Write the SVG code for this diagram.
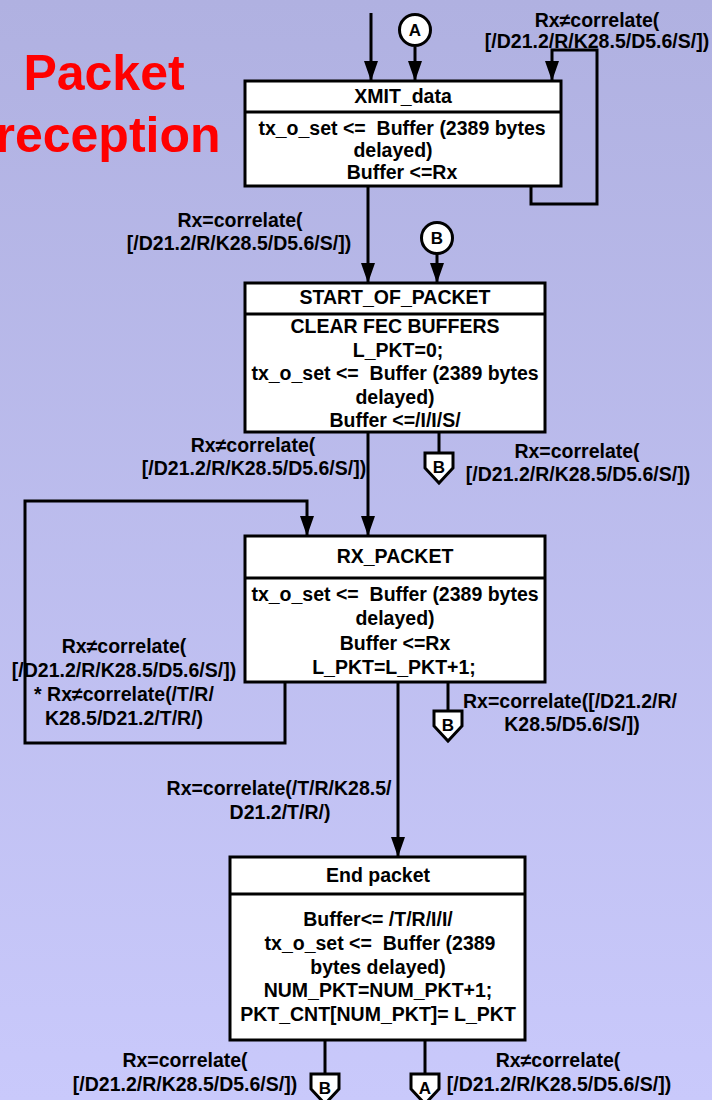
<svg xmlns="http://www.w3.org/2000/svg" width="712" height="1100" viewBox="0 0 712 1100">
<defs>
<linearGradient id="bg" x1="0" y1="0" x2="0" y2="1">
<stop offset="0" stop-color="#b0b1e1"/>
<stop offset="1" stop-color="#c9c9fb"/>
</linearGradient>
<marker id="arr" viewBox="0 -7 20 14" refX="20" refY="0" markerWidth="20" markerHeight="14" markerUnits="userSpaceOnUse" orient="auto">
<path d="M0,-7 L20,0 L0,7 Z" fill="#000"/>
</marker>
<path id="pent" d="M-14,0 H14 V15 L0,30 L-14,15 Z"/>
</defs>
<style>
text{font-family:"Liberation Sans",Arial,sans-serif;font-weight:bold;font-size:19.5px;fill:#000;text-anchor:middle;white-space:pre}
.title{font-size:50px;fill:#ff0000}
.box{fill:#fff;stroke:#000;stroke-width:3}
.div{stroke:#000;stroke-width:3}
.wire{fill:none;stroke:#000;stroke-width:3}
.conn{fill:#fff;stroke:#000;stroke-width:3}
.cl{font-size:17px}
</style>
<rect x="0" y="0" width="712" height="1100" fill="url(#bg)"/>

<g id="title">
<text class="title" x="104" y="90">Packet</text>
<text class="title" x="108" y="152">reception</text>
</g>

<g id="connectors">
<line class="wire" x1="371" y1="13" x2="371" y2="81" marker-end="url(#arr)"/>
<line class="wire" x1="415" y1="47" x2="415" y2="81" marker-end="url(#arr)"/>
<path class="wire" d="M531,186 V204 H597 V50 H552 V81" marker-end="url(#arr)"/>
<line class="wire" x1="368" y1="186" x2="368" y2="283" marker-end="url(#arr)"/>
<line class="wire" x1="437" y1="254" x2="437" y2="283" marker-end="url(#arr)"/>
<line class="wire" x1="368" y1="432" x2="368" y2="536" marker-end="url(#arr)"/>
<line class="wire" x1="439" y1="432" x2="439" y2="453"/>
<path class="wire" d="M285,682 V743 H25 V501 H307 V536" marker-end="url(#arr)"/>
<line class="wire" x1="398" y1="682" x2="398" y2="857" marker-end="url(#arr)"/>
<line class="wire" x1="448" y1="682" x2="448" y2="711"/>
<line class="wire" x1="325" y1="1040" x2="325" y2="1074"/>
<line class="wire" x1="425" y1="1040" x2="425" y2="1074"/>
<text x="597" y="27">Rx≠correlate(</text>
<text x="597" y="48">[/D21.2/R/K28.5/D5.6/S/])</text>
<text x="240" y="227">Rx=correlate(</text>
<text x="239" y="250">[/D21.2/R/K28.5/D5.6/S/])</text>
<text x="253" y="452">Rx≠correlate(</text>
<text x="254" y="475">[/D21.2/R/K28.5/D5.6/S/])</text>
<text x="577" y="458">Rx=correlate(</text>
<text x="578" y="481">[/D21.2/R/K28.5/D5.6/S/])</text>
<text x="124" y="653">Rx≠correlate(</text>
<text x="124" y="677">[/D21.2/R/K28.5/D5.6/S/])</text>
<text x="124" y="701">* Rx≠correlate(/T/R/</text>
<text x="124" y="725">K28.5/D21.2/T/R/)</text>
<text x="570" y="708">Rx=correlate([/D21.2/R/</text>
<text x="572" y="731">K28.5/D5.6/S/])</text>
<text x="279" y="795">Rx=correlate(/T/R/K28.5/</text>
<text x="280" y="819">D21.2/T/R/)</text>
<text x="185" y="1067">Rx=correlate(</text>
<text x="185" y="1091">[/D21.2/R/K28.5/D5.6/S/])</text>
<text x="558" y="1067">Rx≠correlate(</text>
<text x="559" y="1091">[/D21.2/R/K28.5/D5.6/S/])</text>
</g>

<g id="conn-A-top">
<circle class="conn" cx="415" cy="30" r="15.5"/>
<text class="cl" x="415" y="36">A</text>
</g>
<g id="conn-B-top">
<circle class="conn" cx="437" cy="238" r="15.5"/>
<text class="cl" x="437" y="244">B</text>
</g>
<g id="offpage-B1">
<use href="#pent" class="conn" x="439" y="453"/>
<text class="cl" x="439" y="473">B</text>
</g>
<g id="offpage-B2">
<use href="#pent" class="conn" x="448" y="711"/>
<text class="cl" x="448" y="731">B</text>
</g>
<g id="offpage-B3">
<use href="#pent" class="conn" x="325" y="1074"/>
<text class="cl" x="325" y="1094">B</text>
</g>
<g id="offpage-A">
<use href="#pent" class="conn" x="425" y="1074"/>
<text class="cl" x="425" y="1094">A</text>
</g>

<g id="xmit-data">
<rect class="box" x="245" y="81" width="316" height="105"/>
<line class="div" x1="245" y1="112" x2="561" y2="112"/>
<text x="403" y="103">XMIT_data</text>
<text x="402" y="135">tx_o_set &lt;=  Buffer (2389 bytes</text>
<text x="393" y="157">delayed)</text>
<text x="402" y="179">Buffer &lt;=Rx</text>
</g>

<g id="start-of-packet">
<rect class="box" x="245" y="283" width="300" height="149"/>
<line class="div" x1="245" y1="314" x2="545" y2="314"/>
<text x="395" y="304">START_OF_PACKET</text>
<text x="395" y="333">CLEAR FEC BUFFERS</text>
<text x="398" y="357">L_PKT=0;</text>
<text x="395" y="380">tx_o_set &lt;=  Buffer (2389 bytes</text>
<text x="395" y="404">delayed)</text>
<text x="395" y="427">Buffer &lt;=/I/I/S/</text>
</g>

<g id="rx-packet">
<rect class="box" x="245" y="536" width="300" height="146"/>
<line class="div" x1="245" y1="578" x2="545" y2="578"/>
<text x="395" y="563">RX_PACKET</text>
<text x="395" y="601">tx_o_set &lt;=  Buffer (2389 bytes</text>
<text x="395" y="625">delayed)</text>
<text x="395" y="650">Buffer &lt;=Rx</text>
<text x="394" y="674">L_PKT=L_PKT+1;</text>
</g>

<g id="end-packet">
<rect class="box" x="230" y="857" width="295" height="183"/>
<line class="div" x1="230" y1="894" x2="525" y2="894"/>
<text x="378" y="882">End packet</text>
<text x="378" y="926">Buffer&lt;= /T/R/I/I/</text>
<text x="380" y="950">tx_o_set &lt;=  Buffer (2389</text>
<text x="378" y="974">bytes delayed)</text>
<text x="378" y="997">NUM_PKT=NUM_PKT+1;</text>
<text x="378" y="1021">PKT_CNT[NUM_PKT]= L_PKT</text>
</g>
</svg>
